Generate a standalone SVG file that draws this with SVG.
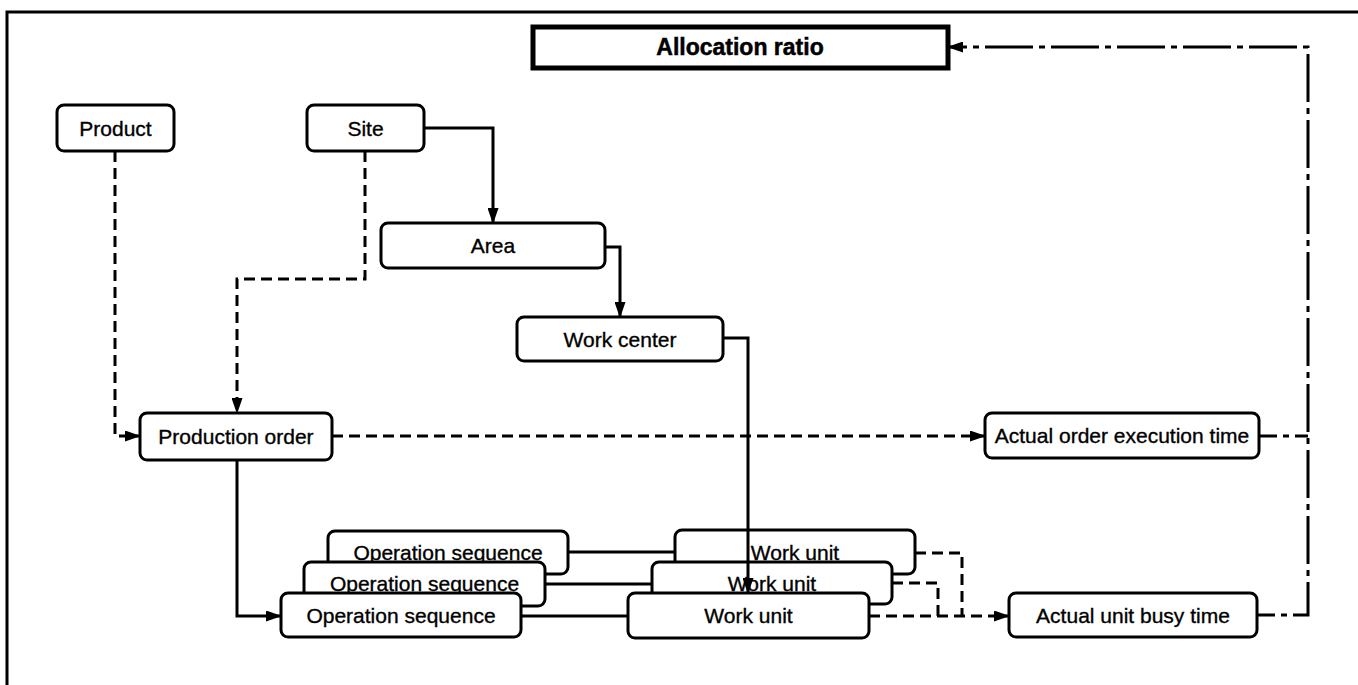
<svg xmlns="http://www.w3.org/2000/svg" width="1358" height="685" viewBox="0 0 1358 685">
<defs>
<style>
.node rect{fill:#fff;stroke:#000;stroke-width:3}
.node text{font-family:"Liberation Sans",Arial,sans-serif;font-size:21px;fill:#000;stroke:#000;stroke-width:0.35;text-anchor:middle}
.ln{fill:none;stroke:#000;stroke-width:3}
.dash{stroke-dasharray:11 6}
.dd{stroke-dasharray:48 6 6 6;stroke-dashoffset:30}
</style>
<marker id="ah" markerWidth="16" markerHeight="11" refX="15" refY="5.5" orient="auto" markerUnits="userSpaceOnUse">
<path d="M0,0 L16,5.5 L0,11 Z" fill="#000"/>
</marker>
</defs>
<rect width="1358" height="685" fill="#fff"/>
<path id="frame" d="M7,685 V12 H1358" fill="none" stroke="#000" stroke-width="3"/>

<g id="alloc" class="node">
<rect x="533" y="27" width="415" height="41" style="stroke-width:5"/>
<text x="740" y="55" style="font-weight:bold;font-size:23px;stroke-width:0.5">Allocation ratio</text>
</g>
<g id="product" class="node"><rect x="57" y="105" width="117" height="46" rx="7"/><text x="115.5" y="135.5">Product</text></g>
<g id="site" class="node"><rect x="307" y="105" width="117" height="46" rx="7"/><text x="365.5" y="135.5">Site</text></g>
<g id="area" class="node"><rect x="381" y="223" width="224" height="45" rx="7"/><text x="493" y="253">Area</text></g>
<g id="workcenter" class="node"><rect x="517" y="317" width="206" height="44" rx="7"/><text x="620" y="346.5">Work center</text></g>
<g id="prodorder" class="node"><rect x="140" y="413" width="192" height="47" rx="7"/><text x="236" y="444">Production order</text></g>
<g id="actualorder" class="node"><rect x="985" y="413" width="274" height="45" rx="7"/><text x="1122" y="443">Actual order execution time</text></g>
<g id="opseq1" class="node"><rect x="328" y="531" width="240" height="43" rx="7"/><text x="448" y="560">Operation sequence</text></g>
<g id="opseq2" class="node"><rect x="304" y="562" width="241" height="44" rx="7"/><text x="424.5" y="591">Operation sequence</text></g>
<g id="opseq3" class="node"><rect x="281" y="593" width="240" height="44" rx="7"/><text x="401" y="622.5">Operation sequence</text></g>
<g id="wu1" class="node"><rect x="675" y="530" width="240" height="44" rx="7"/><text x="795" y="559.5">Work unit</text></g>
<g id="wu2" class="node"><rect x="652" y="562" width="240" height="42" rx="7"/><text x="772" y="590.5">Work unit</text></g>
<g id="wu3" class="node"><rect x="628" y="593" width="241" height="45" rx="7"/><text x="748.5" y="622.5">Work unit</text></g>
<g id="aubt" class="node"><rect x="1009" y="593" width="248" height="44" rx="7"/><text x="1133" y="622.5">Actual unit busy time</text></g>

<g id="connectors">
<path class="ln" d="M424,128 H493 V223" marker-end="url(#ah)"/>
<path class="ln" d="M605,247 H620 V317" marker-end="url(#ah)"/>
<path class="ln" d="M723,338 H748 V593" marker-end="url(#ah)"/>
<path class="ln dash" d="M115,151 V436 H140" marker-end="url(#ah)"/>
<path class="ln dash" d="M365,151 V279 H237 V413" marker-end="url(#ah)"/>
<path class="ln dash" d="M332,436 H985" marker-end="url(#ah)"/>
<path class="ln" d="M237,460 V616 H281" marker-end="url(#ah)"/>
<path class="ln" d="M568,552 H675"/>
<path class="ln" d="M545,584 H652"/>
<path class="ln" d="M521,616 H628"/>
<path class="ln dash" d="M915,553 H962 V616"/>
<path class="ln dash" d="M892,583 H938 V616"/>
<path class="ln dash" d="M869,616 H1009" marker-end="url(#ah)"/>
<path class="ln dd" d="M1259,436 H1308"/>
<path class="ln dd" d="M1257,615 H1308 V47 H948" marker-end="url(#ah)"/>
</g>
</svg>
